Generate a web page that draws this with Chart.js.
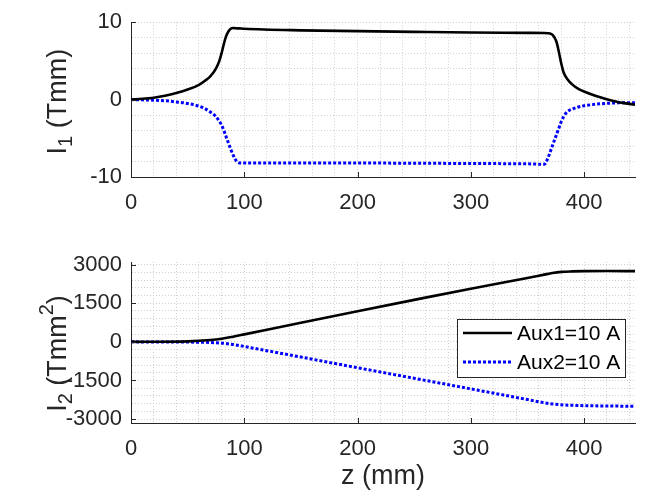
<!DOCTYPE html>
<html>
<head>
<meta charset="utf-8">
<script src="https://cdn.jsdelivr.net/npm/chart.js@4.4.0/dist/chart.umd.min.js"></script>
<style>
    html, body { margin: 0; padding: 0; background: #fff; }
    #wrap { position: relative; width: 649px; height: 497px; }
    #topChart { position: absolute; left: 0; top: 0; }
    #botChart { position: absolute; left: 0; top: 235px; }
</style>
</head>
<body>
<div id="wrap">
    <canvas id="topChart" width="649" height="235" style="width:649px;height:235px"></canvas>
    <canvas id="botChart" width="649" height="262" style="width:649px;height:262px"></canvas>
</div>
<script>
// z positions (mm) for the first integral plot
const zTop = [0, 10, 20, 30, 40, 50, 60, 65, 70, 75, 78, 80, 82, 84, 86, 88, 90, 92, 95, 100,
    150, 200, 250, 300, 350, 365, 368, 370, 372, 374, 376, 378, 380, 382, 385, 390, 395, 400,
    410, 420, 430, 440, 445];
// I1 (Tmm), Aux1 = 10 A
const i1Aux1 = [0, 0.1, 0.25, 0.5, 0.85, 1.3, 1.9, 2.4, 3.0, 4.0, 5.0, 6.0, 7.2, 8.2, 8.8, 9.15, 9.25, 9.22, 9.2, 9.15,
    8.95, 8.85, 8.75, 8.66, 8.62, 8.6, 8.58, 8.55, 8.4, 8.0, 7.3, 6.0, 4.6, 3.5, 2.7, 1.9, 1.4, 1.05,
    0.5, 0.05, -0.3, -0.55, -0.65];
// I1 (Tmm), Aux2 = 10 A
const i1Aux2 = [0, -0.03, -0.08, -0.15, -0.3, -0.5, -0.85, -1.15, -1.6, -2.2, -2.8, -3.3, -4.0, -4.8, -5.6, -6.4, -7.1, -7.7, -8.15, -8.2,
    -8.2, -8.2, -8.22, -8.26, -8.3, -8.35, -7.6, -6.8, -6.0, -5.2, -4.4, -3.6, -2.8, -2.2, -1.6, -1.2, -0.95, -0.8,
    -0.6, -0.48, -0.42, -0.4, -0.4];

// z positions (mm) for the second integral plot
const zBot = [0, 50, 70, 80, 90, 100, 150, 200, 250, 300, 350, 365, 372, 380, 390, 400, 420, 445];
// I2 (Tmm^2)
const i2Aux1 = [0, 20, 70, 120, 200, 290, 745, 1190, 1630, 2065, 2480, 2610, 2670, 2715, 2735, 2745, 2750, 2745];
const i2Aux2 = [0, -8, -25, -50, -100, -180, -590, -1005, -1415, -1825, -2240, -2365, -2410, -2445, -2465, -2478, -2490, -2500];

const seriesLabels = ['Aux1=10 A', 'Aux2=10 A'];

const fontFamily = '"Liberation Sans", Arial, Helvetica, sans-serif';
Chart.defaults.font.family = fontFamily;
Chart.defaults.color = '#262626';

const axisColor = '#262626';
const gridColor = '#d0d0d0';

function toPoints(xs, ys) {
    return xs.map((x, i) => ({ x: x, y: ys[i] }));
}

function makeDatasets(xs, a, b) {
    return [{
        label: seriesLabels[0],
        data: toPoints(xs, a),
        borderColor: '#000000',
        borderWidth: 2.6,
        pointRadius: 0,
        cubicInterpolationMode: 'monotone',
        fill: false
    }, {
        label: seriesLabels[1],
        data: toPoints(xs, b),
        borderColor: '#0000ff',
        borderWidth: 3,
        borderDash: [3, 2],
        pointRadius: 0,
        cubicInterpolationMode: 'monotone',
        fill: false
    }];
}

// grid every `step`, starting at the first multiple inside [min, max]
function stepTicks(min, max, step) {
    return s => {
        const ticks = [];
        for (let v = Math.ceil(min / step) * step; v <= max; v += step) {
            ticks.push({ value: v });
        }
        s.ticks = ticks;
    };
}

function xAxis(showTitle, height) {
    return {
        type: 'linear',
        min: 0,
        max: 445,
        afterBuildTicks: stepTicks(0, 445, 20),
        ticks: {
            autoSkip: false,
            maxRotation: 0,
            padding: 13,
            color: axisColor,
            font: { size: 22 },
            callback: v => (v % 100 === 0 ? v : '')
        },
        grid: { color: gridColor, lineWidth: 1, drawTicks: false },
        border: { display: true, color: axisColor, width: 1, dash: [1, 2] },
        title: {
            display: showTitle,
            text: 'z (mm)',
            color: axisColor,
            font: { size: 27 },
            padding: { top: 0, bottom: 4 }
        },
        afterFit: s => { s.height = height; }
    };
}

function yAxis(min, max, step, major) {
    return {
        type: 'linear',
        min: min,
        max: max,
        afterBuildTicks: stepTicks(min, max, step),
        ticks: {
            autoSkip: false,
            padding: 9,
            color: axisColor,
            font: { size: 22 },
            callback: v => (v % major === 0 ? v : '')
        },
        grid: { color: gridColor, lineWidth: 1, drawTicks: false },
        border: { display: true, color: axisColor, width: 1, dash: [1, 2] },
        afterFit: s => { s.width = 131; }
    };
}

// small inward tick marks at the labelled ticks
const innerTicks = {
    id: 'innerTicks',
    afterDraw(chart) {
        const { ctx, chartArea: ca, scales } = chart;
        ctx.save();
        ctx.strokeStyle = axisColor;
        ctx.lineWidth = 1;
        ctx.beginPath();
        scales.x.ticks.forEach(t => {
            if (t.label === '') return;
            const px = Math.round(scales.x.getPixelForValue(t.value)) + 0.5;
            ctx.moveTo(px, ca.bottom);
            ctx.lineTo(px, ca.bottom - 5);
        });
        scales.y.ticks.forEach(t => {
            if (t.label === '') return;
            const py = Math.round(scales.y.getPixelForValue(t.value)) + 0.5;
            ctx.moveTo(ca.left, py);
            ctx.lineTo(ca.left + 5, py);
        });
        ctx.stroke();
        ctx.restore();
    }
};

// rotated y title with sub/superscripts
const yTitle = {
    id: 'yTitle',
    afterDraw(chart, args, opts) {
        const { ctx, chartArea: ca } = chart;
        const parts = opts.parts || [];
        ctx.save();
        ctx.translate(ca.left - 74, (ca.top + ca.bottom) / 2 + (opts.shift || 0));
        ctx.rotate(-Math.PI / 2);
        ctx.fillStyle = axisColor;
        ctx.textBaseline = 'alphabetic';
        let total = 0;
        parts.forEach(p => {
            ctx.font = p.size + 'px ' + fontFamily;
            p.w = ctx.measureText(p.text).width;
            total += p.w;
        });
        let x = -total / 2;
        parts.forEach(p => {
            ctx.font = p.size + 'px ' + fontFamily;
            ctx.fillText(p.text, x, 9 + (p.dy || 0));
            x += p.w;
        });
        ctx.restore();
    }
};

// boxed legend inside the lower plot
const boxLegend = {
    id: 'boxLegend',
    afterDraw(chart) {
        const { ctx, chartArea: ca } = chart;
        const right = ca.right - 10;
        const left = right - 168;
        const top = ca.top + 57;
        const h = 58;
        ctx.save();
        ctx.fillStyle = '#ffffff';
        ctx.fillRect(left, top, right - left, h);
        ctx.strokeStyle = '#262626';
        ctx.lineWidth = 1;
        ctx.strokeRect(left + 0.5, top + 0.5, right - left, h);
        chart.data.datasets.forEach((ds, i) => {
            const y = top + 14 + i * 29;
            ctx.beginPath();
            ctx.strokeStyle = ds.borderColor;
            ctx.lineWidth = ds.borderWidth;
            ctx.setLineDash(ds.borderDash || []);
            ctx.moveTo(left + 6, y);
            ctx.lineTo(left + 55, y);
            ctx.stroke();
            ctx.setLineDash([]);
            ctx.fillStyle = '#000000';
            ctx.font = '21px ' + fontFamily;
            ctx.textBaseline = 'middle';
            ctx.fillText(ds.label, left + 60, y + 1);
        });
        ctx.restore();
    }
};

function baseOptions(padTop, xAx, yAx, titleParts, titleShift) {
    return {
        responsive: false,
        animation: false,
        layout: { padding: { left: 0, right: 14, top: padTop, bottom: 0 } },
        scales: { x: xAx, y: yAx },
        plugins: {
            legend: { display: false },
            tooltip: { enabled: false },
            yTitle: { parts: titleParts, shift: titleShift }
        }
    };
}

new Chart(document.getElementById('topChart').getContext('2d'), {
    type: 'line',
    data: { datasets: makeDatasets(zTop, i1Aux1, i1Aux2) },
    options: baseOptions(15, xAxis(false, 58), yAxis(-10, 10, 2, 10), [
        { text: 'I', size: 27 },
        { text: '1', size: 20, dy: 6 },
        { text: ' (Tmm)', size: 27 }
    ], 2),
    plugins: [innerTicks, yTitle]
});

new Chart(document.getElementById('botChart').getContext('2d'), {
    type: 'line',
    data: { datasets: makeDatasets(zBot, i2Aux1, i2Aux2) },
    options: baseOptions(27, xAxis(true, 74), yAxis(-3150, 3100, 300, 1500), [
        { text: 'I', size: 27 },
        { text: '2', size: 20, dy: 6 },
        { text: ' (Tmm', size: 27 },
        { text: '2', size: 20, dy: -13 },
        { text: ')', size: 27 }
    ], 11),
    plugins: [innerTicks, yTitle, boxLegend]
});
</script>
</body>
</html>
